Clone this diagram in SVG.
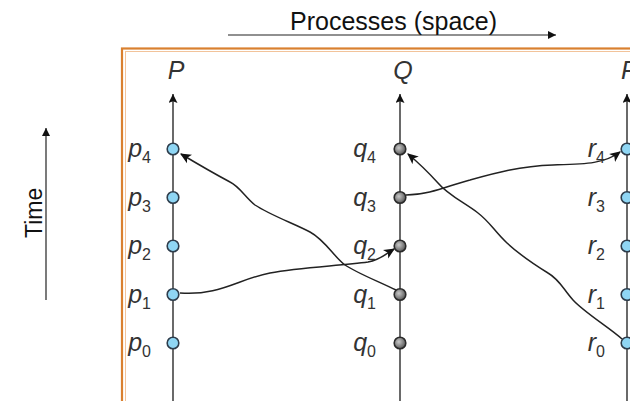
<svg xmlns="http://www.w3.org/2000/svg" width="630" height="401" viewBox="0 0 630 401">
<defs>
<style>
.t{font-family:"Liberation Sans",Arial,sans-serif;fill:#111}
.lbl{font-family:"Liberation Sans",Arial,sans-serif;font-style:italic;font-size:25px;fill:#333}
.sub{font-style:normal;font-size:16px}
.axis{stroke:#444;stroke-width:1.6;fill:none}
.msg{stroke:#222;stroke-width:1.5;fill:none}
.pe{fill:#8fd6f4;stroke:#2e3d4c;stroke-width:1.6}
.qe{fill:url(#qg);stroke:#2a2a2a;stroke-width:1.6}
.guide{stroke:#222;stroke-width:1.2;fill:none}
</style>
<radialGradient id="qg" cx="0.4" cy="0.4" r="0.6">
<stop offset="0" stop-color="#c8c8c8"/>
<stop offset="1" stop-color="#5a5a5a"/>
</radialGradient>
<marker id="ah" viewBox="0 0 10 10" refX="9" refY="5" markerWidth="11" markerHeight="11" markerUnits="userSpaceOnUse" orient="auto">
<path d="M0,0.5 L10,5 L0,9.5 L2.5,5 Z" fill="#111"/>
</marker>
<marker id="axh" viewBox="0 0 10 10" refX="10" refY="5" markerWidth="10" markerHeight="9" markerUnits="userSpaceOnUse" orient="auto">
<path d="M0,0 L10,5 L0,10 L2,5 Z" fill="#111"/>
</marker>
<marker id="gh" viewBox="0 0 10 10" refX="10" refY="5" markerWidth="9" markerHeight="8" markerUnits="userSpaceOnUse" orient="auto">
<path d="M0,0 L10,5 L0,10 Z" fill="#111"/>
</marker>
</defs>
<rect width="630" height="401" fill="#fff"/>
<g id="frame">
<rect x="122" y="48.5" width="530" height="380" fill="none" stroke="#d9802f" stroke-width="2.2"/>
<rect x="125.5" y="51.5" width="520" height="370" fill="none" stroke="#f2c39a" stroke-width="1"/>
</g>
<g id="title">
<text class="t" x="290" y="30" font-size="25">Processes (space)</text>
<line class="guide" x1="228" y1="35" x2="556" y2="35" marker-end="url(#gh)"/>
</g>
<g id="time">
<text class="t" font-size="23" transform="translate(42,238) rotate(-90)">Time</text>
<line class="guide" x1="46" y1="300" x2="46" y2="128" marker-end="url(#gh)"/>
</g>
<g id="connectors">
<path class="axis" d="M173,401 V94" marker-end="url(#axh)"/>
<path class="axis" d="M400,401 V94" marker-end="url(#axh)"/>
<path class="axis" d="M627,401 V94" marker-end="url(#axh)"/>
<path class="msg" d="M396,290 C375,280 355,272 345,265 C335,258 325,240 310,232 C295,224 270,215 255,205 C245,197 240,187 230,182 C215,174 196,163 181,154" marker-end="url(#ah)"/>
<path class="msg" d="M180,293 C220,296 238,279 270,273 C300,267 340,266 368,262 C380,260 386,254 394,249" marker-end="url(#ah)"/>
<path class="msg" d="M406,195 C430,195 450,185 470,180 C495,173 520,166 553,165 C585,164 604,164 620,152" marker-end="url(#ah)"/>
<path class="msg" d="M622,339 C610,328 585,313 573,300 C563,289 560,280 548,273 C535,265 520,255 507,243 C495,232 490,222 478,213 C465,203 448,195 438,183 C428,172 420,164 408,154" marker-end="url(#ah)"/>
</g>
<g id="P">
<text class="lbl" x="176" y="79" text-anchor="middle" font-size="27">P</text>
<circle class="pe" cx="173" cy="149" r="5.8"/><circle class="pe" cx="173" cy="197.5" r="5.8"/><circle class="pe" cx="173" cy="246" r="5.8"/><circle class="pe" cx="173" cy="294.5" r="5.8"/><circle class="pe" cx="173" cy="343" r="5.8"/>
</g>
<g id="p4"><text class="lbl" x="151" y="157" text-anchor="end">p<tspan class="sub" dy="6">4</tspan></text></g>
<g id="p3"><text class="lbl" x="151" y="205.5" text-anchor="end">p<tspan class="sub" dy="6">3</tspan></text></g>
<g id="p2"><text class="lbl" x="151" y="254" text-anchor="end">p<tspan class="sub" dy="6">2</tspan></text></g>
<g id="p1"><text class="lbl" x="151" y="302.5" text-anchor="end">p<tspan class="sub" dy="6">1</tspan></text></g>
<g id="p0"><text class="lbl" x="151" y="351" text-anchor="end">p<tspan class="sub" dy="6">0</tspan></text></g>
<g id="Q">
<text class="lbl" x="403" y="79" text-anchor="middle" font-size="27">Q</text>
<circle class="qe" cx="400" cy="149" r="5.8"/><circle class="qe" cx="400" cy="197.5" r="5.8"/><circle class="qe" cx="400" cy="246" r="5.8"/><circle class="qe" cx="400" cy="294.5" r="5.8"/><circle class="qe" cx="400" cy="343" r="5.8"/>
</g>
<g id="q4"><text class="lbl" x="376" y="157" text-anchor="end">q<tspan class="sub" dy="6">4</tspan></text></g>
<g id="q3"><text class="lbl" x="376" y="205.5" text-anchor="end">q<tspan class="sub" dy="6">3</tspan></text></g>
<g id="q2"><text class="lbl" x="376" y="254" text-anchor="end">q<tspan class="sub" dy="6">2</tspan></text></g>
<g id="q1"><text class="lbl" x="376" y="302.5" text-anchor="end">q<tspan class="sub" dy="6">1</tspan></text></g>
<g id="q0"><text class="lbl" x="376" y="351" text-anchor="end">q<tspan class="sub" dy="6">0</tspan></text></g>
<g id="R">
<text class="lbl" x="621" y="79" font-size="27">R</text>
<circle class="pe" cx="627" cy="149" r="5.8"/><circle class="pe" cx="627" cy="197.5" r="5.8"/><circle class="pe" cx="627" cy="246" r="5.8"/><circle class="pe" cx="627" cy="294.5" r="5.8"/><circle class="pe" cx="627" cy="343" r="5.8"/>
</g>
<g id="r4"><text class="lbl" x="605" y="157" text-anchor="end">r<tspan class="sub" dy="6">4</tspan></text></g>
<g id="r3"><text class="lbl" x="605" y="205.5" text-anchor="end">r<tspan class="sub" dy="6">3</tspan></text></g>
<g id="r2"><text class="lbl" x="605" y="254" text-anchor="end">r<tspan class="sub" dy="6">2</tspan></text></g>
<g id="r1"><text class="lbl" x="605" y="302.5" text-anchor="end">r<tspan class="sub" dy="6">1</tspan></text></g>
<g id="r0"><text class="lbl" x="605" y="351" text-anchor="end">r<tspan class="sub" dy="6">0</tspan></text></g>
</svg>
